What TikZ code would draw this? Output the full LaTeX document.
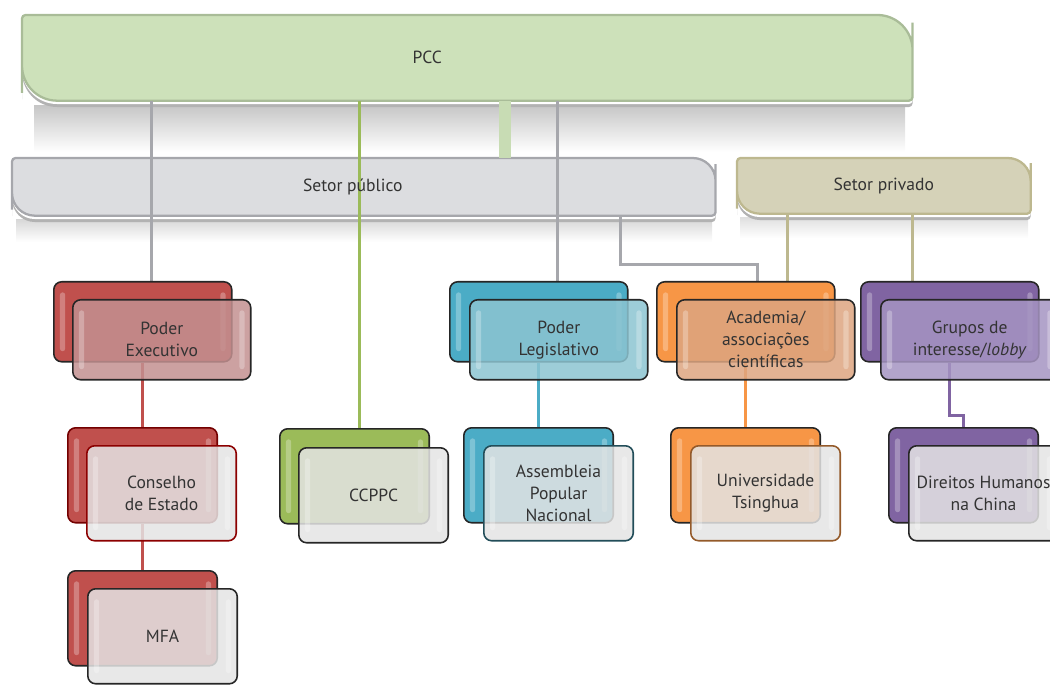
\documentclass[tikz,border=0pt]{standalone}
\usepackage{fontspec}
\setmainfont{PT Sans}
\usetikzlibrary{calc}

\definecolor{pccfill}{HTML}{CDE1BA}
\definecolor{pccdraw}{HTML}{A9BC98}
\definecolor{pubfill}{HTML}{DCDDE0}
\definecolor{pubdraw}{HTML}{A6A7AC}
\definecolor{privfill}{HTML}{D5D2B8}
\definecolor{privdraw}{HTML}{BDB88F}
\definecolor{cred}{HTML}{C0504D}
\definecolor{cgreen}{HTML}{9BBB59}
\definecolor{cteal}{HTML}{4BACC6}
\definecolor{corange}{HTML}{F79646}
\definecolor{cpurple}{HTML}{8064A2}
\definecolor{fred}{HTML}{C39090}
\definecolor{fteal}{HTML}{8CC4D1}
\definecolor{forange}{HTML}{DDA580}
\definecolor{fpurple}{HTML}{A594C2}
\definecolor{fgray}{HTML}{E4E4E4}
\definecolor{barfill}{HTML}{C8DCB4}
\definecolor{txt}{HTML}{333333}

\pgfdeclarelayer{background}
\pgfdeclarelayer{lines}
\pgfsetlayers{background,lines,main}

% tab shape: node, fill, border, big radius
\newcommand{\tabpath}[2]{%
  (#1.west) [rounded corners=2pt] -- (#1.north west) -- (#1.north)
  [rounded corners=#2] -- (#1.north east) -- (#1.east)
  [rounded corners=2pt] -- (#1.south east) -- (#1.south)
  [rounded corners=#2] -- (#1.south west) -- cycle}
\newcommand{\tabshape}[4]{%
  \path[fill=black!30, transform canvas={yshift=-3.6pt}] \tabpath{#1}{#4};
  \path[fill=white, transform canvas={yshift=-1.9pt}] \tabpath{#1}{#4};
  \path[fill=#2, draw=#3, line width=1.3pt] \tabpath{#1}{#4};}

\tikzset{
  gloss/.style={path picture={
    \fill[white, opacity=.28, rounded corners=1.5pt]
      ([xshift=3.5pt,yshift=-6pt]path picture bounding box.north west) rectangle
      ([xshift=6.5pt,yshift=6pt]path picture bounding box.south west);
    \fill[white, opacity=.28, rounded corners=1.5pt]
      ([xshift=-3.5pt,yshift=-6pt]path picture bounding box.north east) rectangle
      ([xshift=-6.5pt,yshift=6pt]path picture bounding box.south east);}},
  backbox/.style={draw=black!85, line width=.9pt, rounded corners=4.5pt,
    fill=#1, anchor=north west, gloss},
  frontbox/.style={draw=black!85, line width=.9pt, rounded corners=4.5pt,
    fill=#1, fill opacity=.85, text opacity=1, text=txt, anchor=north west,
    align=center, gloss, font=\fontsize{10}{12.5}\selectfont},
  lvlone/.style={minimum width=3.56cm, minimum height=1.6cm, inner sep=1pt},
  lvltwo/.style={minimum width=2.99cm, minimum height=1.9cm, inner sep=1pt},
  sector/.style={anchor=north west, inner sep=0pt, text=txt,
    font=\fontsize{10}{12}\selectfont},
  publine/.style={draw=pubdraw, line width=1.7pt},
  privline/.style={draw=privdraw, line width=1.5pt},
  link/.style={draw=#1, line width=1.6pt}
}

\begin{document}
\begin{tikzpicture}[x=0.02cm, y=-0.02cm]
  \useasboundingbox (0,0) rectangle (1050,685);

  % sectors
  \node (pcc) at (22,15) [sector, minimum width=17.8cm, minimum height=1.7cm,
    label={[xshift=-.8cm, text=txt, font=\fontsize{10}{12}\selectfont]center:PCC}] {};
  \node (pub) at (12,158) [sector, minimum width=14.06cm, minimum height=1.14cm,
    label={[xshift=-.22cm, text=txt, font=\fontsize{10}{12}\selectfont]center:Setor público}] {};
  \node (priv) at (737,158) [sector, minimum width=5.86cm, minimum height=1.1cm] {Setor privado};

  \begin{pgfonlayer}{background}
    \shade[top color=black!22, bottom color=white] (34,106) rectangle (905,152);
    \shade[top color=black!15, bottom color=white] (16,220) rectangle (712,242);
    \shade[top color=black!12, bottom color=white] (740,218) rectangle (1028,238);
    \tabshape{pcc}{pccfill}{pccdraw}{20pt}
    \tabshape{pub}{pubfill}{pubdraw}{13pt}
    \tabshape{priv}{privfill}{privdraw}{13pt}
  \end{pgfonlayer}

  % first level
  \node (exeB) at (53,281) [backbox=cred, lvlone] {};
  \node (exe) at (72,299) [frontbox=fred, lvlone] {Poder\\Executivo};
  \node (legB) at (449,281) [backbox=cteal, lvlone] {};
  \node (leg) at (469,299) [frontbox=fteal, lvlone] {Poder\\Legislativo};
  \node (acaB) at (656,281) [backbox=corange, lvlone] {};
  \node (aca) at (676,299) [frontbox=forange, lvlone] {Academia/\\associações\\científicas};
  \node (grpB) at (860,281) [backbox=cpurple, lvlone] {};
  \node (grp) at (880,299) [frontbox=fpurple, lvlone] {Grupos de\\interesse/\textit{lobby}};

  % second level
  \node (consB) at (67,427) [backbox=cred, lvltwo, draw=red!45!black] {};
  \node (cons) at (86,445) [frontbox=fgray, lvltwo, draw=red!55!black] {Conselho\\de Estado};
  \node (mfaB) at (67,570) [backbox=cred, lvltwo] {};
  \node (mfa) at (87,588) [frontbox=fgray, lvltwo] {MFA};
  \node (ccpB) at (279,428) [backbox=cgreen, lvltwo] {};
  \node (ccp) at (298,447) [frontbox=fgray, lvltwo] {CCPPC};
  \node (asmB) at (463,427) [backbox=cteal, lvltwo] {};
  \node (asm) at (483,445) [frontbox=fgray, lvltwo, draw=cteal!45!black] {Assembleia\\Popular\\Nacional};
  \node (uniB) at (670,427) [backbox=corange, lvltwo] {};
  \node (uni) at (690,445) [frontbox=fgray, lvltwo, draw=corange!60!black] {Universidade\\Tsinghua};
  \node (dirB) at (888,427) [backbox=cpurple, lvltwo] {};
  \node (dir) at (908,445) [frontbox=fgray, lvltwo] {Direitos Humanos\\na China};

  \begin{pgfonlayer}{lines}
    \draw[draw=barfill, line width=6.8pt] ([xshift=.76cm]pcc.south) -- ([xshift=.76cm]pcc.south |- pub.north);
    \draw[publine] ([xshift=.17cm]exeB.north) -- ([xshift=.17cm]exeB.north |- pcc.south);
    \draw[link=cgreen, line width=1.2pt] ([xshift=.1cm]ccpB.north) -- ([xshift=.1cm]ccpB.north |- pcc.south);
    \draw[publine] ([xshift=.37cm]legB.north) -- ([xshift=.37cm]legB.north |- pcc.south);
    \draw[publine] ([xshift=5.13cm]pub.south) -- ++(0,49) -| ([xshift=.23cm]acaB.north);
    \draw[privline] ([xshift=.83cm]acaB.north) -- ([xshift=.83cm]acaB.north |- priv.south);
    \draw[privline] ([xshift=-.74cm]grpB.north) -- ([xshift=-.74cm]grpB.north |- priv.south);

    \draw[link=cred] (exeB.south -| consB.north) -- (consB.north);
    \draw[link=cred] (consB.south) -- ++(0,32) -| (mfaB.north);
    \draw[link=cteal] (legB.south -| asmB.north) -- (asmB.north);
    \draw[link=corange] (acaB.south -| uniB.north) -- (uniB.north);
    \draw[link=cpurple] (grpB.south) -- ++(0,53) -| (dirB.north);
  \end{pgfonlayer}
\end{tikzpicture}
\end{document}
